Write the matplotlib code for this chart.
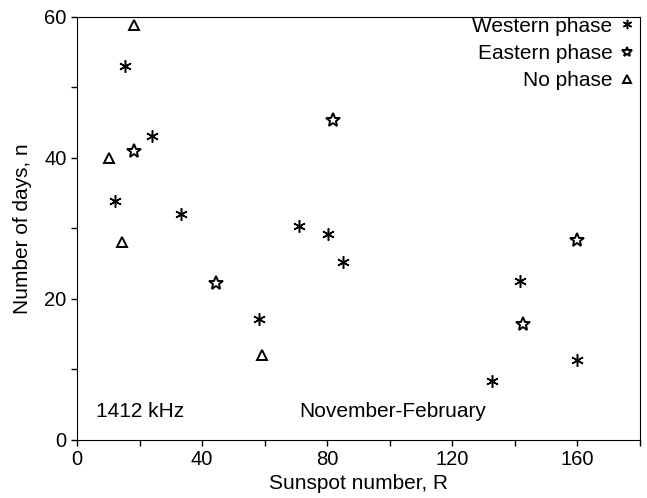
import matplotlib
matplotlib.use("Agg")
import matplotlib.pyplot as plt
from matplotlib.ticker import MultipleLocator

plt.rcParams["font.family"] = ["Liberation Sans", "DejaVu Sans"]

# Sunspot number R and number of days n
western_r = [15.3, 12.2, 24.1, 33.4, 58.2, 71.1, 80.2, 85.2, 132.8, 141.8, 159.9]
western_n = [53.0, 33.9, 43.1, 32.1, 17.1, 30.3, 29.2, 25.2, 8.3, 22.5, 11.4]

eastern_r = [18.2, 44.4, 81.8, 142.7, 159.9]
eastern_n = [40.9, 22.2, 45.3, 16.4, 28.4]

nophase_r = [18.2, 10.2, 14.4, 59.1]
nophase_n = [58.8, 39.9, 28.0, 12.0]

fig = plt.figure(figsize=(6.47, 4.98), dpi=100)
ax = fig.add_axes([0.119, 0.1165, 0.870, 0.850])

ax.plot(western_r, western_n, linestyle="none", marker=(6, 2, 0),
        markersize=9, color="black", markeredgewidth=1.1, label="Western phase")
ax.plot(eastern_r, eastern_n, linestyle="none", marker="*",
        markersize=10, markerfacecolor="white", markeredgecolor="black",
        markeredgewidth=1.4, label="Eastern phase")
ax.plot(nophase_r, nophase_n, linestyle="none", marker="^",
        markersize=7, markerfacecolor="white", markeredgecolor="black",
        markeredgewidth=1.4, label="No phase")

ax.set_xlim(0, 180)
ax.set_ylim(0, 60)
ax.xaxis.set_major_locator(MultipleLocator(40))
ax.xaxis.set_minor_locator(MultipleLocator(20))
ax.yaxis.set_major_locator(MultipleLocator(20))
ax.yaxis.set_minor_locator(MultipleLocator(10))
ax.tick_params(which="both", direction="out", length=4, width=1, labelsize=14.5)

ax.set_xlabel("Sunspot number, R", fontsize=15, labelpad=3)
ax.set_ylabel("Number of days, n", fontsize=15, labelpad=9)

ax.text(6, 3.3, "1412 kHz", fontsize=15)
ax.text(71, 3.3, "November-February", fontsize=15)

ax.legend(loc="upper right", bbox_to_anchor=(0.988, 1.0),
          markerfirst=False, frameon=False, fontsize=15,
          markerscale=0.75, handlelength=0.6, handletextpad=0.4,
          labelspacing=0.4, borderaxespad=0.0, borderpad=0.0)

fig.savefig("out.png", dpi=100)
